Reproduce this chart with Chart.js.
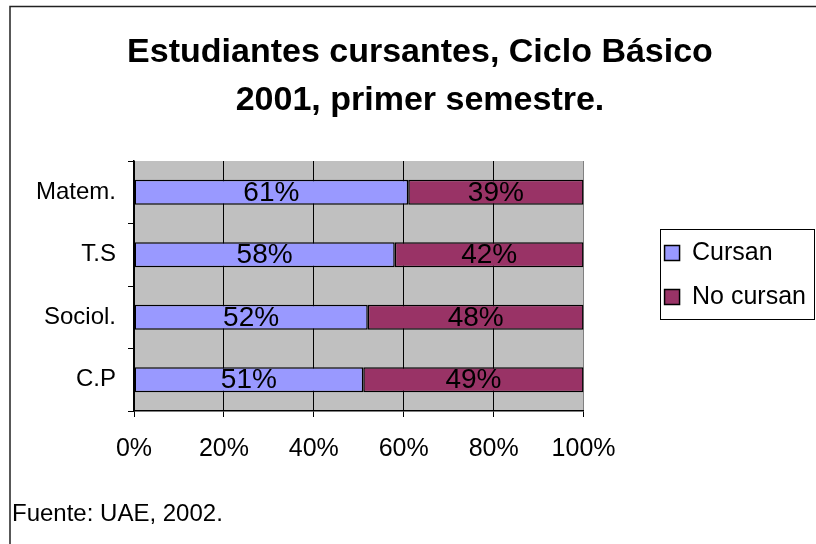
<!DOCTYPE html>
<html>
<head>
<meta charset="utf-8">
<script src="https://cdn.jsdelivr.net/npm/chart.js@4/dist/chart.umd.min.js"></script>
<style>
  html, body { margin: 0; padding: 0; background: #fff; }
  #wrap { width: 816px; height: 544px; position: relative; }
</style>
</head>
<body>
<div id="wrap"><canvas id="c" width="816" height="544"></canvas></div>
<script>
// ---- data ----
const categories = ['Matem.', 'T.S', 'Sociol.', 'C.P'];
const cursan = [61, 58, 52, 51];
const noCursan = [39, 42, 48, 49];
const seriesNames = ['Cursan', 'No cursan'];
const titleLines = ['Estudiantes cursantes, Ciclo Básico', '2001, primer semestre.'];
const sourceNote = 'Fuente: UAE, 2002.';

const FONT = "'Liberation Sans', Arial, sans-serif";
const LEGEND_GAP = 62;

const backgroundPlugin = {
  id: 'bgFrame',
  beforeDraw(chart) {
    const ctx = chart.ctx;
    const a = chart.chartArea;
    ctx.save();
    ctx.fillStyle = '#ffffff';
    ctx.fillRect(0, 0, chart.width, chart.height);
    ctx.fillStyle = '#c0c0c0';
    ctx.fillRect(a.left, a.top, a.right - a.left, a.bottom - a.top);
    ctx.restore();
  },
  afterDraw(chart) {
    const ctx = chart.ctx;
    ctx.save();
    ctx.strokeStyle = '#222';
    ctx.lineWidth = 1.5;
    ctx.strokeRect(10, 6.5, 900, 700);
    const lg = chart.legend;
    if (lg && lg.legendHitBoxes && lg.legendHitBoxes.length) {
      const hb = lg.legendHitBoxes;
      const x0 = hb[0].left - 5;
      const y0 = hb[0].top - 12;
      const y1 = hb[hb.length - 1].top + hb[hb.length - 1].height + 9;
      ctx.strokeStyle = '#000';
      ctx.lineWidth = 1;
      ctx.strokeRect(Math.round(x0) + 0.5, Math.round(y0) + 0.5, 815 - Math.round(x0) - 1, Math.round(y1 - y0));
    }
    ctx.fillStyle = '#000';
    ctx.font = '24px ' + FONT;
    ctx.textAlign = 'left';
    ctx.textBaseline = 'middle';
    ctx.fillText(sourceNote, 12, 514);
    ctx.restore();
  }
};

const valueLabelPlugin = {
  id: 'valueLabels',
  afterDatasetsDraw(chart) {
    const ctx = chart.ctx;
    ctx.save();
    ctx.fillStyle = '#000';
    ctx.font = '28px ' + FONT;
    ctx.textAlign = 'center';
    ctx.textBaseline = 'middle';
    chart.data.datasets.forEach((ds, i) => {
      const meta = chart.getDatasetMeta(i);
      meta.data.forEach((bar, j) => {
        const p = bar.getProps(['x', 'y', 'base'], true);
        ctx.fillText(ds.data[j] + '%', (p.x + p.base) / 2, p.y + 1);
      });
    });
    ctx.restore();
  }
};

const gapPlugin = {
  id: 'legendGap',
  beforeInit(chart) {
    const box = {
      position: 'right', weight: 500, fullSize: false,
      options: { stackWeight: 1 },
      width: 0, height: 0, left: 0, top: 0, right: 0, bottom: 0,
      isHorizontal() { return false; },
      update(maxWidth, maxHeight) { this.width = LEGEND_GAP; this.height = maxHeight; },
      getPadding() { return { top: 0, left: 0, right: 0, bottom: 0 }; },
      draw() {}
    };
    Chart.layouts.addBox(chart, box);
  }
};

new Chart(document.getElementById('c'), {
  type: 'bar',
  data: {
    labels: categories,
    datasets: [
      { label: seriesNames[0], data: cursan, backgroundColor: '#9999ff', borderColor: '#000', borderWidth: 1.5, borderSkipped: false },
      { label: seriesNames[1], data: noCursan, backgroundColor: '#993366', borderColor: '#000', borderWidth: 1.5, borderSkipped: false }
    ]
  },
  options: {
    indexAxis: 'y',
    responsive: false,
    animation: false,
    devicePixelRatio: 1,
    barPercentage: 0.4,
    categoryPercentage: 1.0,
    layout: { padding: { left: 24, right: 0, top: 0, bottom: 0 } },
    scales: {
      x: {
        stacked: true,
        min: 0, max: 100,
        ticks: { stepSize: 20, color: '#000', font: { family: FONT, size: 25 }, padding: 17, callback: v => v + '%' },
        grid: { color: ctx => (ctx.tick && ctx.tick.value === 100) ? '#808080' : '#000', lineWidth: 1, tickLength: 6, tickColor: '#000', drawTicks: true },
        border: { display: true, color: '#000', width: 1.5 },
        afterFit(scale) { scale.height = 133; }
      },
      y: {
        stacked: true,
        ticks: { color: '#000', font: { family: FONT, size: 24 }, padding: 12 },
        grid: { drawOnChartArea: false, tickLength: 6, color: '#000', tickColor: '#000' },
        border: { display: true, color: '#000', width: 1.5 },
        afterFit(scale) { scale.width = 110; }
      }
    },
    plugins: {
      title: {
        display: true,
        text: titleLines,
        color: '#000',
        font: { family: FONT, size: 34, weight: 'bold', lineHeight: 48 / 34 },
        padding: { top: 29, bottom: 36 }
      },
      legend: {
        position: 'right',
        align: 'center',
        maxWidth: 300,
        title: { display: true, text: ' ', font: { size: 5, lineHeight: 1.2 }, padding: 0 },
        labels: {
          color: '#000',
          font: { family: FONT, size: 25 },
          boxWidth: 15, boxHeight: 15,
          padding: 19
        }
      },
      tooltip: { enabled: false }
    }
  },
  plugins: [gapPlugin, backgroundPlugin, valueLabelPlugin]
});
</script>
</body>
</html>
